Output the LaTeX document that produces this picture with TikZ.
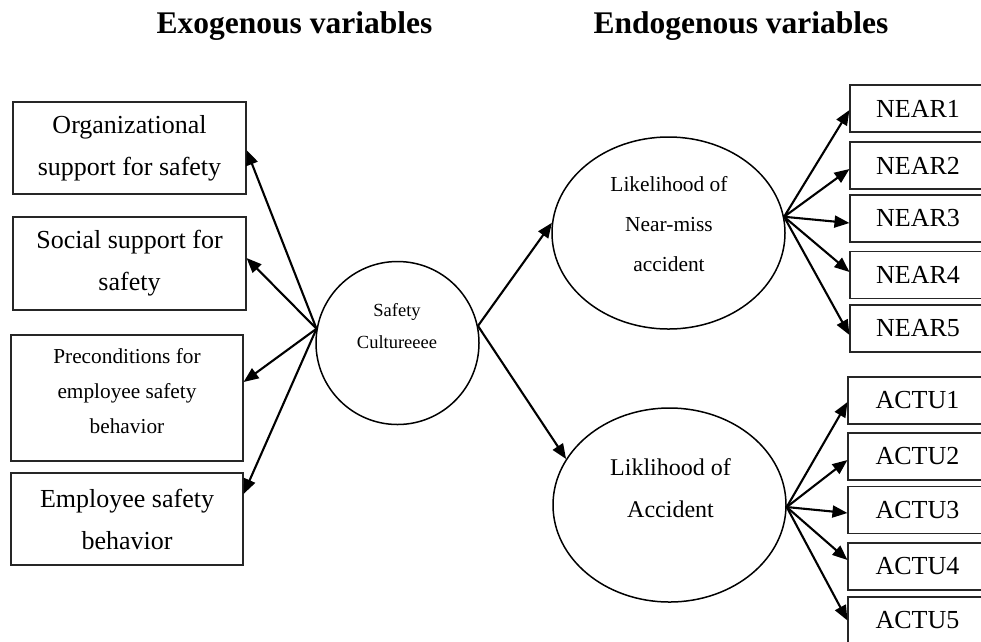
\documentclass[tikz,border=0pt]{standalone}
\usepackage{fontspec}
\setmainfont{Liberation Serif}
\usetikzlibrary{arrows.meta,shapes.geometric}
\begin{document}
\begin{tikzpicture}[x=1pt,y=-1pt,
  box/.style={draw=black!85,line width=1.1pt,rectangle,inner sep=0pt,align=center},
  lbox/.style={box,minimum width=233pt,font=\fontsize{26}{42}\selectfont},
  ind/.style={box,minimum height=47pt,font=\fontsize{26}{30}\selectfont},
  latent/.style={draw,line width=1.5pt,inner sep=0pt},
  lab/.style={align=center,inner sep=0pt},
  link/.style={line width=2.1pt,-{Triangle[length=15pt,width=12pt]}},
  title/.style={font=\fontsize{31.5}{36}\selectfont\bfseries,anchor=base}]

\useasboundingbox (0,0) rectangle (981,641);
\clip (0,0) rectangle (981,641);

% headings
\node[title] (exo) at (294.5,33) {Exogenous variables};
\node[title] (endo) at (741,33) {Endogenous variables};

% exogenous constructs
\node[lbox,minimum height=92pt] (org) at (129.5,148) {Organizational\\support for safety};
\node[lbox,minimum height=93pt] (soc) at (129.5,263.5) {Social support for\\safety};
\node[lbox,minimum width=232pt,minimum height=126pt,
      font=\fontsize{21.3}{35}\selectfont,text depth=14pt] (pre) at (127,398)
      {Preconditions for\\employee safety\\behavior};
\node[lbox,minimum width=232pt,minimum height=92pt] (emp) at (127,519) {Employee safety\\behavior};

% latent variables
\node[latent,circle,minimum size=163pt] (sc) at (397.5,343) {};
\node[lab,font=\fontsize{18.5}{32}\selectfont] (sct) at (397,326.5) {Safety\\Cultureeee};

\node[latent,ellipse,minimum width=233pt,minimum height=192pt] (nm) at (668.5,233) {};
\node[lab,font=\fontsize{21.4}{40}\selectfont] (nmt) at (669,224.5) {Likelihood of\\Near-miss\\accident};

\node[latent,ellipse,minimum width=233pt,minimum height=194pt] (ac) at (669.5,505) {};
\node[lab,font=\fontsize{24}{42}\selectfont] (act) at (670.5,488) {Liklihood of\\Accident};

% indicators
\foreach \i/\y in {1/108.5,2/165.5,3/218.5,4/275,5/328.5}
  \node[ind,minimum width=136pt] (n\i) at (918,\y) {NEAR\i};
\foreach \i/\y in {1/400.5,2/456.5,3/510,4/566.5,5/620.5}
  \node[ind,minimum width=139pt] (a\i) at (917.5,\y) {ACTU\i};

% paths
\draw[link] (sc.170) -- ([yshift=-2pt]org.east);
\draw[link] (sc.170) -- ([yshift=5.5pt]soc.east);
\draw[link] (sc.170) -- ([yshift=16pt]pre.east);
\draw[link] (sc.170) -- ([yshift=25pt]emp.east);

\draw[link] (sc.12) -- (nm.175);
\draw[link] (sc.12) -- (ac.156);

\foreach \i/\s in {1/-1.5,2/-3.5,3/-4.5,4/3,5/-6.5}
  \draw[link] (nm.8) -- ([yshift=\s pt]n\i.west);
\foreach \i/\s in {1/-1.5,2/-3.5,3/-3,4/6.5,5/0}
  \draw[link] (ac.-1) -- ([yshift=\s pt]a\i.west);
\end{tikzpicture}
\end{document}
